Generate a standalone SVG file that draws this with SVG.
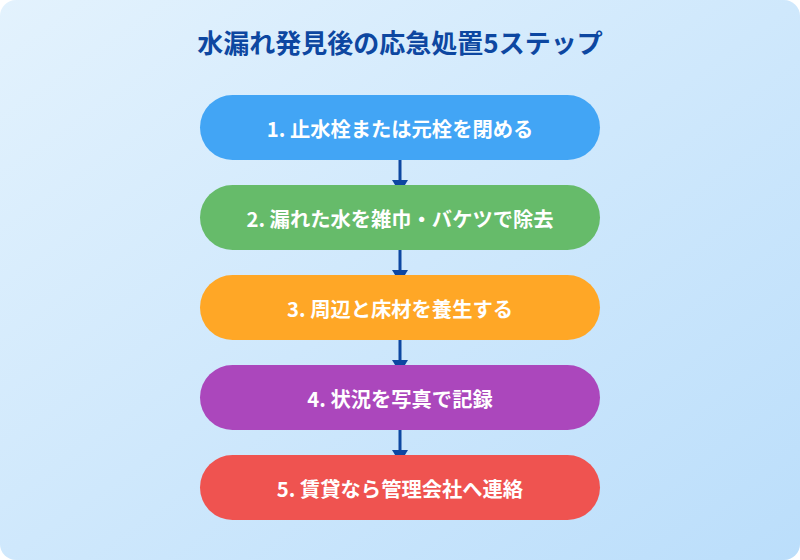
<svg xmlns="http://www.w3.org/2000/svg" width="800" height="560" viewBox="0 0 800 560">
  <defs>
    <linearGradient id="bg" x1="0" y1="0" x2="1" y2="1">
      <stop offset="0" stop-color="#E3F2FD"/>
      <stop offset="1" stop-color="#BBDEFB"/>
    </linearGradient>
    <marker id="arrow" viewBox="0 0 13 16" refX="0" refY="8" markerWidth="13" markerHeight="16" markerUnits="userSpaceOnUse" orient="auto">
      <path d="M0,0 L13,8 L0,16 Z" fill="#0D47A1"/>
    </marker>
    <style>
      .title { font-family: "Noto Sans CJK JP", "Noto Sans", sans-serif; font-size: 26px; font-weight: bold; fill: #0D47A1; text-anchor: middle; }
      .label { font-family: "Noto Sans CJK JP", "Noto Sans", sans-serif; font-size: 20.3px; font-weight: bold; fill: #FFFFFF; text-anchor: middle; }
      .conn { stroke: #0D47A1; stroke-width: 3; fill: none; marker-end: url(#arrow); }
    </style>
  </defs>
  <rect x="0" y="0" width="800" height="560" fill="#FFFFFF"/>
  <rect x="0" y="0" width="800" height="560" rx="16" ry="16" fill="url(#bg)"/>
  <text class="title" x="400" y="53">水漏れ発見後の応急処置5ステップ</text>
  <g id="connectors">
    <line class="conn" x1="400" y1="160" x2="400" y2="180"/>
    <line class="conn" x1="400" y1="250" x2="400" y2="270"/>
    <line class="conn" x1="400" y1="340" x2="400" y2="360"/>
    <line class="conn" x1="400" y1="430" x2="400" y2="450"/>
  </g>
  <g id="step1">
    <rect x="200" y="95" width="400" height="65" rx="32.5" fill="#42A5F5"/>
    <text class="label" x="400" y="137">1. 止水栓または元栓を閉める</text>
  </g>
  <g id="step2">
    <rect x="200" y="185" width="400" height="65" rx="32.5" fill="#66BB6A"/>
    <text class="label" x="400" y="227">2. 漏れた水を雑巾・バケツで除去</text>
  </g>
  <g id="step3">
    <rect x="200" y="275" width="400" height="65" rx="32.5" fill="#FFA726"/>
    <text class="label" x="400" y="317">3. 周辺と床材を養生する</text>
  </g>
  <g id="step4">
    <rect x="200" y="365" width="400" height="65" rx="32.5" fill="#AB47BC"/>
    <text class="label" x="400" y="407">4. 状況を写真で記録</text>
  </g>
  <g id="step5">
    <rect x="200" y="455" width="400" height="65" rx="32.5" fill="#EF5350"/>
    <text class="label" x="400" y="497">5. 賃貸なら管理会社へ連絡</text>
  </g>
</svg>
